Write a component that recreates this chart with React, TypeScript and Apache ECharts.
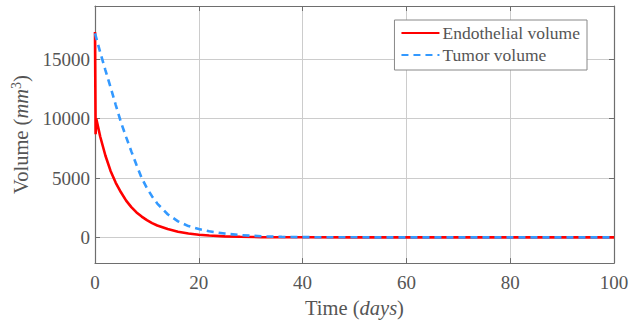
import React, { useEffect, useRef } from "react";
import * as echarts from "echarts";

const endoTime = [0, 0.12, 0.25, 1, 2, 3, 4, 5, 6, 7, 8, 9, 10, 11, 12, 14, 16, 18, 20, 22, 25, 28, 32, 36, 40, 50, 60, 80, 100];
const endoVolume = [17300, 8700, 10000, 8500, 6900, 5600, 4600, 3800, 3100, 2550, 2100, 1750, 1450, 1200, 1000, 700, 480, 330, 220, 150, 85, 45, 20, 10, 4, 0, 0, 0, 0];

const tumorTime = [0, 1, 2, 3, 4, 5, 6, 7, 8, 9, 10, 11, 12, 14, 16, 18, 20, 22, 25, 28, 32, 36, 40, 50, 60, 80, 100];
const tumorVolume = [17200, 15600, 14100, 12650, 11150, 9700, 8450, 7250, 6100, 5000, 4150, 3450, 2850, 1950, 1350, 950, 700, 510, 320, 190, 90, 40, 18, 3, 0, 0, 0];

const xTicks = [0, 20, 40, 60, 80, 100];
const yTicks = [0, 5000, 10000, 15000];

const FONT = "Liberation Serif";
const TXT = "#555555";
const AX = "#6e6e6e";
const GRID = "#cccccc";

export default function App() {
  const ref = useRef<HTMLDivElement>(null);
  useEffect(() => {
    if (!ref.current) return;
    const chart = echarts.init(ref.current, null, { renderer: "svg" });
    const pair = (t: number[], v: number[]) => t.map((x, i) => [x, v[i]]);
    const commonX = {
      type: "value",
      min: xTicks[0],
      max: xTicks[xTicks.length - 1],
      interval: 20,
    };
    const commonY = {
      type: "value",
      min: -2170,
      max: 19500,
    };
    const line = { show: true, onZero: false, lineStyle: { color: AX, width: 1.2 } };
    chart.setOption({
      animation: false,
      backgroundColor: "#ffffff",
      textStyle: { fontFamily: FONT },
      grid: { left: 95, right: 29, top: 6, bottom: 57, containLabel: false },
      legend: {
        right: 56,
        top: 20,
        orient: "vertical",
        backgroundColor: "#ffffff",
        borderColor: "#888888",
        borderWidth: 1,
        padding: [4, 7, 6, 6],
        itemWidth: 38,
        itemHeight: 10,
        itemGap: 4,
        itemStyle: { opacity: 0 },
        textStyle: { fontFamily: FONT, fontSize: 17.5, color: TXT, padding: [0, 0, 0, -2] },
        data: ["Endothelial volume", "Tumor volume"],
      },
      xAxis: [
        {
          ...commonX,
          position: "bottom",
          name: "Time ({i|days})",
          nameLocation: "middle",
          nameGap: 31,
          nameTextStyle: {
            fontFamily: FONT,
            fontSize: 20.5,
            color: TXT,
            rich: { i: { fontFamily: FONT, fontSize: 20.5, fontStyle: "italic", color: TXT } },
          },
          axisLine: line,
          axisTick: { show: true, inside: true, length: 5, lineStyle: { color: AX } },
          axisLabel: { fontFamily: FONT, fontSize: 19, color: TXT, margin: 10 },
          splitLine: { show: true, lineStyle: { color: GRID, width: 1 } },
        },
        {
          ...commonX,
          position: "top",
          axisLine: line,
          axisTick: { show: true, inside: true, length: 5, lineStyle: { color: AX } },
          axisLabel: { show: false },
          splitLine: { show: false },
        },
      ],
      yAxis: [
        {
          ...commonY,
          position: "left",
          name: "Volume ({i|mm}{s|3})",
          nameLocation: "middle",
          nameGap: 58,
          nameTextStyle: {
            fontFamily: FONT,
            fontSize: 20.5,
            color: TXT,
            rich: {
              i: { fontFamily: FONT, fontSize: 20.5, fontStyle: "italic", color: TXT },
              s: { fontFamily: FONT, fontSize: 14, color: TXT, verticalAlign: "top", padding: [0, 0, 9, 0] },
            },
          },
          axisLine: line,
          axisTick: { show: true, inside: true, length: 5, lineStyle: { color: AX }, customValues: yTicks },
          axisLabel: {
            fontFamily: FONT,
            fontSize: 19,
            color: TXT,
            margin: 5,
            customValues: yTicks,
            formatter: (v: number) => String(v),
          },
          splitLine: { show: false },
        },
        {
          ...commonY,
          position: "right",
          axisLine: line,
          axisTick: { show: true, inside: true, length: 5, lineStyle: { color: AX }, customValues: yTicks },
          axisLabel: { show: false },
          splitLine: { show: false },
        },
      ],
      series: [
        {
          name: "Endothelial volume",
          type: "line",
          xAxisIndex: 0,
          yAxisIndex: 0,
          showSymbol: false,
          symbol: "none",
          smooth: false,
          color: "#ff0000",
          lineStyle: { color: "#ff0000", width: 2.6 },
          data: pair(endoTime, endoVolume),
          markLine: {
            silent: true,
            symbol: "none",
            label: { show: false },
            lineStyle: { color: GRID, width: 1, type: "solid" },
            data: yTicks.map((v) => ({ yAxis: v })),
            z: 0,
          },
          z: 3,
        },
        {
          name: "Tumor volume",
          type: "line",
          xAxisIndex: 0,
          yAxisIndex: 0,
          showSymbol: false,
          symbol: "none",
          color: "#3399ff",
          lineStyle: { color: "#3399ff", width: 2.6, type: [7, 5] },
          data: pair(tumorTime, tumorVolume),
          z: 4,
        },
      ],
    });
    return () => chart.dispose();
  }, []);
  return <div ref={ref} style={{ width: 643, height: 323, position: "absolute", left: 0, top: 0 }} />;
}
